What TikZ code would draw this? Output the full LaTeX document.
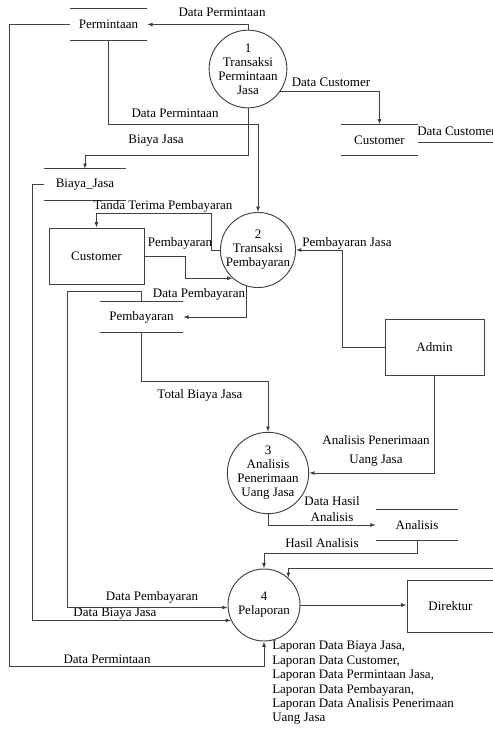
\documentclass[tikz,border=0pt]{standalone}
\usepackage{fontspec}
\setmainfont{Liberation Serif}
\usetikzlibrary{arrows.meta}
\begin{document}
\begin{tikzpicture}[x=0.75pt,y=-0.75pt,
  every node/.style={font=\fontsize{9.75}{10.8}\selectfont, inner sep=0pt},
  ln/.style={draw=black!75, line width=0.7pt},
  arr/.style={ln, -{Latex[length=4pt,width=3pt]}},
  proc/.style={circle, draw=black!75, line width=0.7pt, align=center, font=\fontsize{9.75}{10.5}\selectfont},
  ent/.style={rectangle, draw=black!75, line width=0.7pt, minimum height=42pt},
  store/.style={rectangle, minimum height=23pt},
  lbl/.style={align=center}]
\useasboundingbox (0,0) rectangle (493,729);

% processes
\node[proc, minimum size=52.5pt] (p1) at (248,69) {1\\Transaksi\\Permintaan\\Jasa};
\node[proc, minimum size=52.5pt] (p2) at (258,250) {2\\Transaksi\\Pembayaran};
\node[proc, minimum size=54pt] (p3) at (268,473) {3\\Analisis\\Penerimaan\\Uang Jasa};
\node[proc, minimum size=54pt] (p4) at (264,605) {4\\Pelaporan};

% entities
\node[ent, minimum width=71.25pt] (custBox) at (96.5,256) {Customer};
\node[ent, minimum width=74.25pt] (admin) at (434.5,347) {Admin};
\node[ent, minimum width=65.25pt, minimum height=39pt] (direktur) at (450.5,606) {Direktur};

% data stores
\node[store, minimum width=57.75pt] (perm) at (108.5,24.5) {Permintaan};
\node[store, minimum width=57.75pt] (custStore) at (379.5,140) {Customer};
\node[store, minimum width=61.5pt] (biaya) at (85,184.5) {Biaya\_Jasa};
\node[store, minimum width=62.25pt] (pemb) at (141.5,317) {Pembayaran};
\node[store, minimum width=61.5pt] (anal) at (417,525) {Analisis};
\foreach \s in {perm,custStore,biaya,pemb,anal}{
  \draw[ln] (\s.north west) -- (\s.north east) (\s.south west) -- (\s.south east);
}

% connectors
\draw[arr] (p1.north) |- (perm.east);
\node[lbl] (l1) at (222,12) {Data Permintaan};

\draw[arr] (perm.south) -- ++(0,84) -| (p2.north);
\node[lbl] (l2) at (175,113) {Data Permintaan};

\draw[arr] (p1.-35) -| (custStore.north);
\node[lbl] (l3) at (331,82) {Data Customer};

\coordinate (custOut) at (500,142);
\draw[ln] (custStore.east |- custOut) -- (custOut);
\node[anchor=west] (l4) at (417,131) {Data Customer};

\draw[arr] (p1.south) -- ++(0,47) -| (biaya.north);
\node[lbl] (l5) at (156,141) {Biaya Jasa};

\draw[arr] (biaya.west) -- ++(-11,0) |- (p4.-155.4);
\node[lbl] (l6) at (115,614) {Data Biaya Jasa};

\draw[arr] (p2.west) -- ++(-9,0) -- ++(0,-37) -| (custBox.north);
\node[lbl] (l7) at (163,206) {Tanda Terima Pembayaran};

\draw[arr] (custBox.east) -- ++(41,0) |- (p2.-132);
\node[lbl] (l8) at (180,243) {Pembayaran};

\draw[arr] (admin.west) -- ++(-42,0) |- (p2.east);
\node[lbl] (l9) at (347,243) {Pembayaran Jasa};

\draw[arr] (p2.-108) |- (pemb.east);
\node[lbl] (l10) at (199,294) {Data Pembayaran};

\draw[arr] (pemb.north) -- ++(0,-10) -- ++(-74,0) |- (p4.-176.8);
\node[lbl] (l11) at (152,597) {Data Pembayaran};

\draw[arr] (pemb.south) -- ++(0,49) -| (p3.north);
\node[lbl] (l12) at (200,395) {Total Biaya Jasa};

\draw[arr] (admin.south) |- (p3.east);
\node[lbl, font=\fontsize{9.75}{14}\selectfont] (l13) at (376,451) {Analisis Penerimaan\\Uang Jasa};

\draw[arr] (p3.south) |- (anal.west);
\node[lbl, font=\fontsize{9.75}{12.5}\selectfont] (l14) at (332,509) {Data Hasil\\Analisis};

\draw[arr] (anal.south) -- ++(0,13) -| (p4.north);
\node[lbl] (l15) at (322,543) {Hasil Analisis};

\coordinate (extIn) at (500,568);
\draw[arr] (extIn) -| (p4.48);

\draw[arr] (p4.east) -- (p4.east -| direktur.west);

\draw[arr] (perm.west) -- ++(-60,0) -- ++(0,642) -| (p4.south);
\node[lbl] (l16) at (107,659) {Data Permintaan};

\node[anchor=north west, align=left, font=\fontsize{9.75}{10.8}\selectfont] (lap) at (272,641)
 {Laporan Data Biaya Jasa,\\Laporan Data Customer,\\Laporan Data Permintaan Jasa,\\Laporan Data Pembayaran,\\Laporan Data Analisis Penerimaan\\Uang Jasa};
\end{tikzpicture}
\end{document}
